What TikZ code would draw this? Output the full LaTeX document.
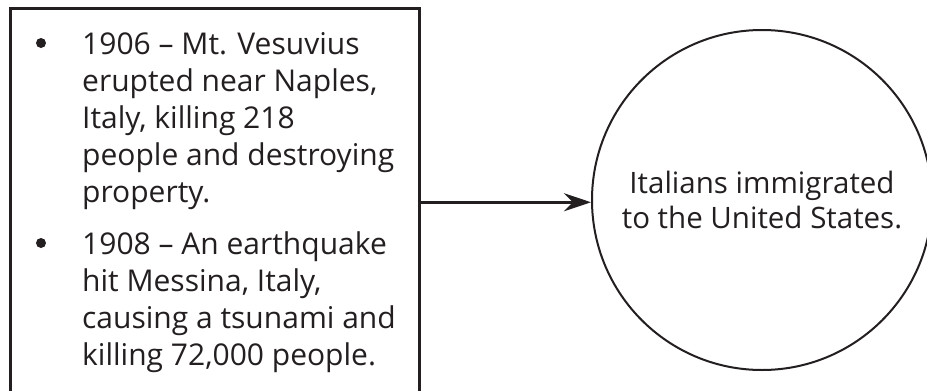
\documentclass[tikz,border=0pt]{standalone}
\usepackage{fontspec}
\setmainfont{Open Sans}
\usepackage{xcolor}
\definecolor{inkdark}{RGB}{35,31,32}
\usetikzlibrary{arrows.meta, positioning}

\begin{document}
\begin{tikzpicture}[x=1pt, y=-1pt,
    bulletdot/.style={circle, fill=inkdark, inner sep=0pt, minimum size=10pt},
    itemtext/.style={anchor=north west, inner sep=0pt, align=left, text=inkdark,
      font=\fontsize{30}{37}\selectfont}]
  \useasboundingbox (0,0) rectangle (927,391);

  % Left box with the two events
  \node[draw=inkdark, line width=2.5pt, anchor=north west, inner sep=0pt,
        minimum width=409pt, minimum height=388pt] (events) at (9,7) {};

  % First bullet
  \node[bulletdot] (dotA) at (41,43) {};
  \node[itemtext] (itemA) at (82,32) {1906 -- Mt. Vesuvius\\erupted near Naples,\\Italy, killing 218\\people and destroying\\property.};

  % Second bullet
  \node[bulletdot] (dotB) at (41,243) {};
  \node[itemtext] (itemB) at (82,232) {1908 -- An earthquake\\hit Messina, Italy,\\causing a tsunami and\\killing 72,000 people.};

  % Result circle
  \node[circle, draw=inkdark, line width=2pt, minimum size=340pt, align=center,
        text=inkdark, font=\fontsize{29.5}{35}\selectfont] (result) at (762,200)
        {Italians immigrated\\to the United States.};

  % Cause to effect
  \draw[-{Stealth[length=27pt, width=18pt]}, line width=3pt, inkdark]
    (events.east) -- (events.east -| result.west);
\end{tikzpicture}
\end{document}
